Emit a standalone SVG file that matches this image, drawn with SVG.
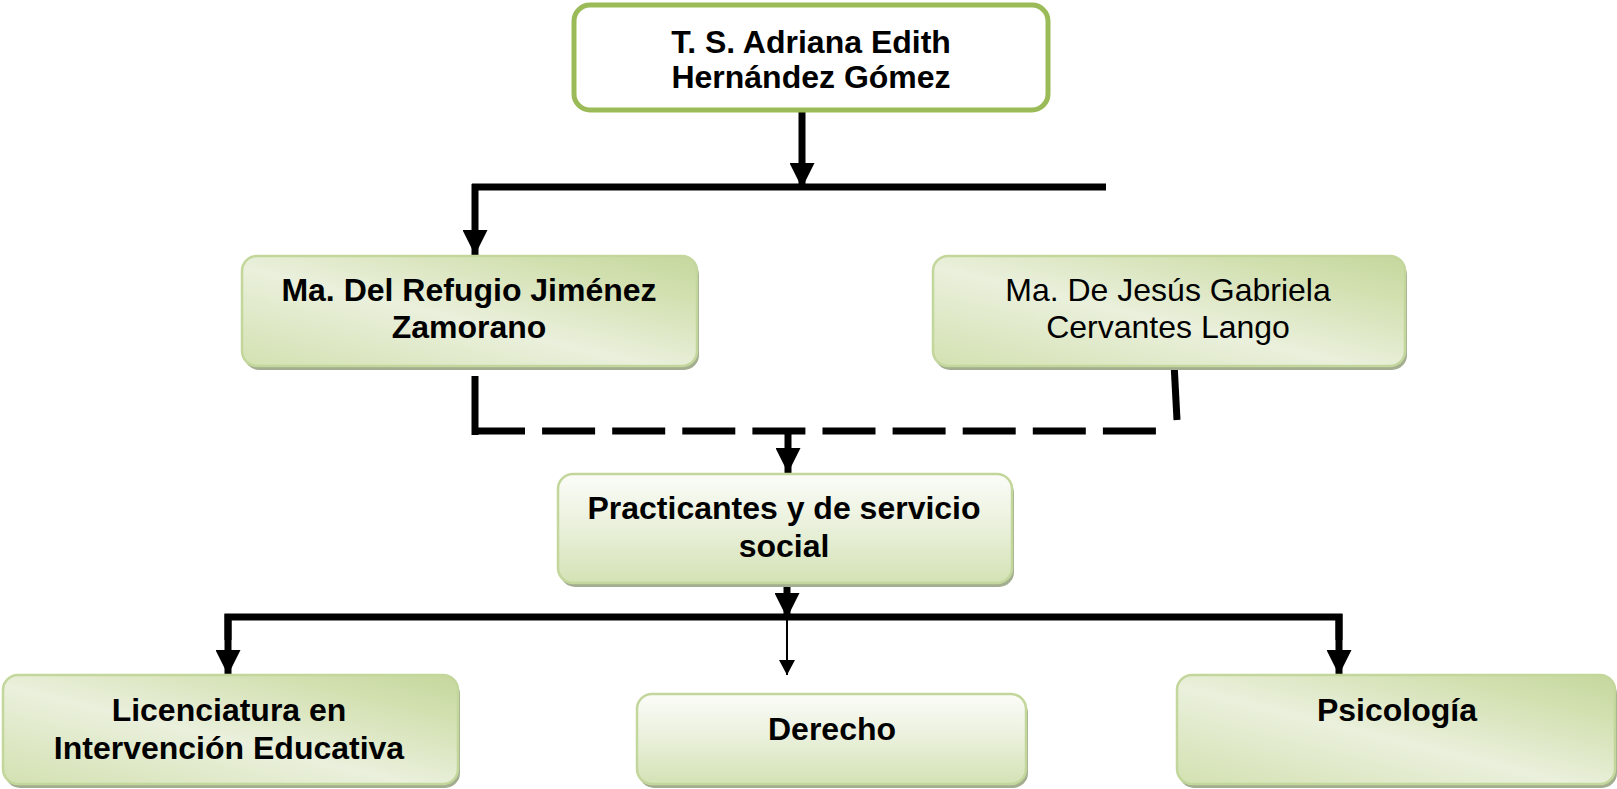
<svg xmlns="http://www.w3.org/2000/svg" width="1617" height="789" viewBox="0 0 1617 789">
<defs>
<linearGradient id="gDiag" x1="0" y1="1" x2="1" y2="0">
<stop offset="0" stop-color="#d3e1b1"/>
<stop offset="0.45" stop-color="#eaf0dc"/>
<stop offset="0.8" stop-color="#d2e0b0"/>
<stop offset="1" stop-color="#c5d79d"/>
</linearGradient>
<linearGradient id="gVert" x1="0" y1="0" x2="0" y2="1">
<stop offset="0" stop-color="#fbfcf8"/>
<stop offset="0.5" stop-color="#e9f0da"/>
<stop offset="1" stop-color="#d4e2b5"/>
</linearGradient>
<marker id="ah" markerUnits="userSpaceOnUse" markerWidth="25" markerHeight="25" refX="25" refY="12.5" orient="auto">
<path d="M0,0 L25,12.5 L0,25 Z" fill="#000"/>
</marker>
<marker id="ahs" markerUnits="userSpaceOnUse" markerWidth="16" markerHeight="16" refX="15" refY="8" orient="auto">
<path d="M0,0 L15,8 L0,16 Z" fill="#000"/>
</marker>
</defs>
<style>
.box{stroke:#c3d69b;stroke-width:2.5}
.shadow{fill:#a3ad90}
.t{font-family:"Liberation Sans",Arial,sans-serif;font-size:32px;fill:#000;text-anchor:middle}
.b{font-weight:bold}
.c{stroke:#000;stroke-width:7;fill:none}
.thin{stroke:#000;stroke-width:2;fill:none}
</style>
<g id="connectors">
<line class="c" x1="802" y1="110" x2="802" y2="188" marker-end="url(#ah)"/>
<line class="c" x1="472" y1="187" x2="1106" y2="187"/>
<line class="c" x1="475" y1="184" x2="475" y2="255" marker-end="url(#ah)"/>
<line class="c" x1="475" y1="376" x2="475" y2="435"/>
<line class="c" x1="472" y1="431" x2="1156" y2="431" stroke-dasharray="53 17.1" stroke-width="8"/>
<line class="c" x1="1174" y1="363" x2="1177" y2="420"/>
<line class="c" x1="788" y1="431" x2="788" y2="473" marker-end="url(#ah)"/>
<line class="c" x1="787" y1="583" x2="787" y2="618" marker-end="url(#ah)"/>
<path class="c" d="M228,640 V617 H1339 V640"/>
<line class="c" x1="228" y1="614" x2="228" y2="675" marker-end="url(#ah)"/>
<line class="c" x1="1339" y1="614" x2="1339" y2="675" marker-end="url(#ah)"/>
<line class="thin" x1="787" y1="617" x2="787" y2="675" marker-end="url(#ahs)"/>
</g>
<g id="node-top">
<rect x="574" y="5" width="474" height="105" rx="16" fill="#fff" stroke="#9bbb59" stroke-width="5"/>
<text class="t b" x="811" y="53">T. S. Adriana Edith</text>
<text class="t b" x="811" y="88">Hernández Gómez</text>
</g>
<g id="node-refugio">
<rect class="shadow" x="244" y="260" width="455" height="110" rx="15"/>
<rect class="box" x="242" y="256" width="455" height="110" rx="15" fill="url(#gDiag)"/>
<text class="t b" x="469" y="301">Ma. Del Refugio Jiménez</text>
<text class="t b" x="469" y="338">Zamorano</text>
</g>
<g id="node-gabriela">
<rect class="shadow" x="935" y="260" width="472" height="110" rx="15"/>
<rect class="box" x="933" y="256" width="472" height="110" rx="15" fill="url(#gDiag)"/>
<text class="t" x="1168" y="301">Ma. De Jesús Gabriela</text>
<text class="t" x="1168" y="338">Cervantes Lango</text>
</g>
<g id="node-practicantes">
<rect class="shadow" x="560" y="478" width="454" height="109" rx="15"/>
<rect class="box" x="558" y="474" width="454" height="109" rx="15" fill="url(#gVert)"/>
<text class="t b" x="784" y="519">Practicantes y de servicio</text>
<text class="t b" x="784" y="557">social</text>
</g>
<g id="node-licenciatura">
<rect class="shadow" x="5" y="679" width="455" height="109" rx="15"/>
<rect class="box" x="3" y="675" width="455" height="109" rx="15" fill="url(#gDiag)"/>
<text class="t b" x="229" y="721">Licenciatura en</text>
<text class="t b" x="229" y="759">Intervención Educativa</text>
</g>
<g id="node-derecho">
<rect class="shadow" x="639" y="698" width="389" height="90" rx="15"/>
<rect class="box" x="637" y="694" width="389" height="90" rx="15" fill="url(#gVert)"/>
<text class="t b" x="832" y="740">Derecho</text>
</g>
<g id="node-psicologia">
<rect class="shadow" x="1179" y="679" width="438" height="109" rx="15"/>
<rect class="box" x="1177" y="675" width="438" height="109" rx="15" fill="url(#gDiag)"/>
<text class="t b" x="1397" y="721">Psicología</text>
</g>
</svg>
